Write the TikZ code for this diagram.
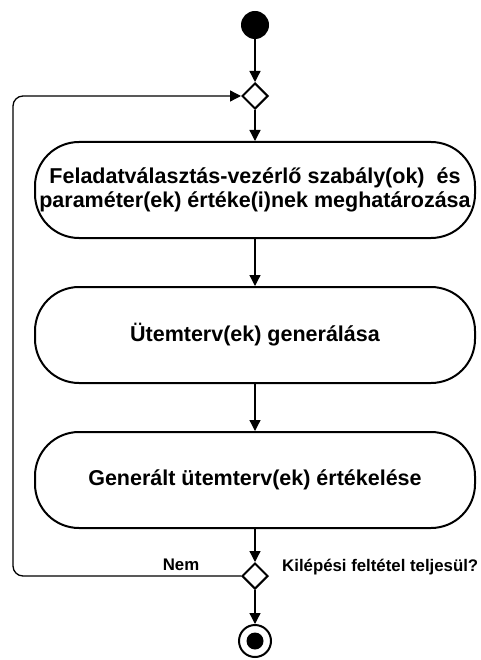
\documentclass[tikz,border=0pt]{standalone}
\usepackage{fontspec}
\setmainfont{Liberation Sans}
\usetikzlibrary{arrows.meta,shapes.geometric}
\begin{document}
\begin{tikzpicture}[x=1pt,y=-1pt,
  act/.style={draw,line width=2pt,rounded corners=44pt,minimum width=440pt,minimum height=96pt,align=center,font=\bfseries\fontsize{21.5}{24}\selectfont,inner sep=0pt},
  dec/.style={draw,line width=2pt,diamond,minimum width=26pt,minimum height=26pt,inner sep=0pt,fill=white},
  flow/.style={line width=1.3pt,-{Triangle[length=11pt,width=11pt]}},
  lbl/.style={font=\bfseries\fontsize{16.8}{19}\selectfont,inner sep=0pt}]
\useasboundingbox (0,0) rectangle (480,660);
\node[circle,fill=black,minimum size=28pt,inner sep=0pt] (start) at (255,25) {};
\node[dec] (d1) at (255,96) {};
\node[act] (a1) at (255,190) {Feladatválasztás-vezérlő szabály(ok)\ \ és\\paraméter(ek) értéke(i)nek meghatározása};
\node[act] (a2) at (255,335) {Ütemterv(ek) generálása};
\node[act] (a3) at (255,480) {Generált ütemterv(ek) értékelése};
\node[dec] (d2) at (255,576) {};
\node[circle,draw,line width=2pt,minimum size=32pt,inner sep=0pt] (end) at (255,641) {};
\node[circle,fill=black,minimum size=17pt,inner sep=0pt] at (end) {};
\coordinate (cl) at (13,576);
\coordinate (tl) at (13,96);
\draw[flow] (start) -- (d1);
\draw[flow] (d1) -- (a1);
\draw[flow] (a1) -- (a2);
\draw[flow] (a2) -- (a3);
\draw[flow] (a3) -- (d2);
\draw[flow] (d2) -- (end);
\draw[flow,rounded corners=10pt] (d2.west) -- (cl) -- (tl) -- (d1.west);
\node[lbl] (nem) at (181,565) {Nem};
\node[lbl,anchor=west] (kil) at (282,567) {Kilépési feltétel teljesül?};
\end{tikzpicture}
\end{document}
